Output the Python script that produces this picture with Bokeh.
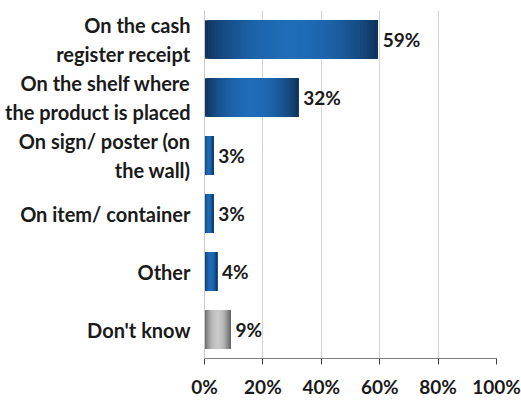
import math
from bokeh.plotting import figure
from bokeh.models import FactorRange, FixedTicker, CustomJSTickFormatter
from bokeh.core.properties import value
from bokeh.embed import file_html
from bokeh.resources import INLINE

categories = ["On the cash\nregister receipt",
              "On the shelf where\nthe product is placed",
              "On sign/ poster (on\nthe wall)",
              "On item/ container",
              "Other",
              "Don't know"]
shares = [59.3, 32.1, 3.0, 3.0, 4.3, 8.9]
palettes = ["blue", "blue", "blue", "blue", "blue", "grey"]
x_ticks = [0, 20, 40, 60, 80, 100]

FONT = "Lato"

p = figure(width=521, height=400, output_backend="svg", toolbar_location=None,
           y_range=FactorRange(*reversed(categories)), x_range=(0, 100),
           min_border_left=204, min_border_right=25, min_border_top=10, min_border_bottom=40)
p.outline_line_color = None
p.background_fill_color = "white"
p.border_fill_color = "white"

def shade(kind, t):
    f = math.sin(math.pi * t) ** 0.7
    if kind == "grey":
        d, b = (88, 88, 88), (200, 200, 200)
    else:
        d, b = (15, 46, 84), (31, 108, 184)
    c = [int(round(d[k] + (b[k] - d[k]) * f)) for k in range(3)]
    return "#%02x%02x%02x" % tuple(c)

N = 50
ys, lefts, rights, colors = [], [], [], []
for cat, v, kind in zip(categories, shares, palettes):
    for i in range(N):
        ys.append(cat)
        lefts.append(v * i / N)
        rights.append(v)
        colors.append(shade(kind, (i + 0.5) / N))
p.hbar(y=ys, left=lefts, right=rights, height=0.66, fill_color=colors, line_color=None)

labels = ["%d%%" % round(v) for v in shares]
p.text(x=shares, y=categories, text=labels, x_offset=5, text_baseline="middle",
       text_align="left", text_font=value(FONT), text_font_style="bold",
       text_font_size="19px", text_color="#1a1a1a")

p.xaxis.ticker = FixedTicker(ticks=x_ticks)
p.xaxis.formatter = CustomJSTickFormatter(code="return tick + '%';")
p.xaxis.major_label_text_font = FONT
p.xaxis.major_label_text_font_style = "bold"
p.xaxis.major_label_text_font_size = "19px"
p.xaxis.major_label_text_color = "#1a1a1a"
p.xaxis.major_label_standoff = 10
p.xaxis.axis_line_color = "#7f7f7f"
p.xaxis.major_tick_line_color = "#404040"
p.xaxis.major_tick_out = 6
p.xaxis.major_tick_in = 0
p.xaxis.minor_tick_line_color = None

p.yaxis.major_label_text_font = FONT
p.yaxis.major_label_text_font_style = "bold"
p.yaxis.major_label_text_font_size = "20px"
p.yaxis.major_label_text_color = "#1a1a1a"
p.yaxis.major_label_standoff = 14
p.yaxis.axis_line_color = "#c8c8c8"
p.yaxis.major_tick_line_color = None
p.yaxis.major_tick_out = 0
p.yaxis.major_tick_in = 0
p.yaxis.minor_tick_line_color = None

p.xgrid.grid_line_color = "#d4d4d4"
p.xgrid.ticker = FixedTicker(ticks=x_ticks)
p.ygrid.grid_line_color = None

open("out.html", "w").write(file_html(p, INLINE))
